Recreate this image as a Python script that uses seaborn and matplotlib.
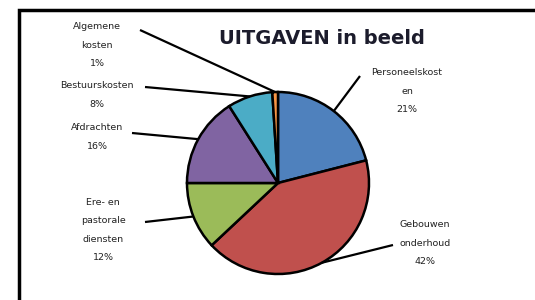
import numpy as np
import matplotlib
matplotlib.use("Agg")
import matplotlib.pyplot as plt
import seaborn as sns
from matplotlib.patches import Rectangle

categories = ["Personeelskost\nen", "Gebouwen\nonderhoud", "Ere- en\npastorale\ndiensten",
              "Afdrachten", "Bestuurskosten", "Algemene\nkosten"]
percentages = [21, 42, 12, 16, 8, 1]
colors = ["#4F81BD", "#C0504D", "#9BBB59", "#8064A2", "#4BACC6", "#F79646"]

# label text centres and leader start points (pixel coords, y from bottom)
label_pos = [(407, 209), (425, 57), (103, 70), (97, 163), (97, 205), (97, 255)]
leader_start = [(360, 224), (393, 55), (145, 78), (132, 167), (145, 213), (140, 270)]

sns.set_theme(style="white")
plt.rcParams["font.family"] = ["DejaVu Sans"]

fig = plt.figure(figsize=(5.35, 3.0), dpi=100)
ax = fig.add_axes([0, 0, 1, 1])
ax.set_xlim(0, 535)
ax.set_ylim(0, 300)
ax.set_aspect("equal")
ax.axis("off")

cx, cy, r = 278, 117, 91
wedges, _ = ax.pie(percentages, colors=colors, startangle=90, counterclock=False,
                   center=(cx, cy), radius=r,
                   wedgeprops=dict(edgecolor="black", linewidth=1.8))
ax.set_xlim(0, 535)
ax.set_ylim(0, 300)

for w, name, pct, lp, ls in zip(wedges, categories, percentages, label_pos, leader_start):
    mid = np.deg2rad((w.theta1 + w.theta2) / 2)
    ex, ey = cx + r * np.cos(mid), cy + r * np.sin(mid)
    ax.plot([ls[0], ex], [ls[1], ey], color="black", lw=1.6, solid_capstyle="butt")
    ax.text(lp[0], lp[1], f"{name}\n{pct}%", ha="center", va="center",
            fontsize=6.8, linespacing=2.3, color="#222222")

ax.text(322, 262, "UITGAVEN in beeld", ha="center", va="center",
        fontsize=14, fontweight="bold", color="#1c1c2c")

ax.add_patch(Rectangle((19, -20), 540, 310, fill=False, edgecolor="black", lw=2.5))

fig.savefig("out.png", dpi=100)
